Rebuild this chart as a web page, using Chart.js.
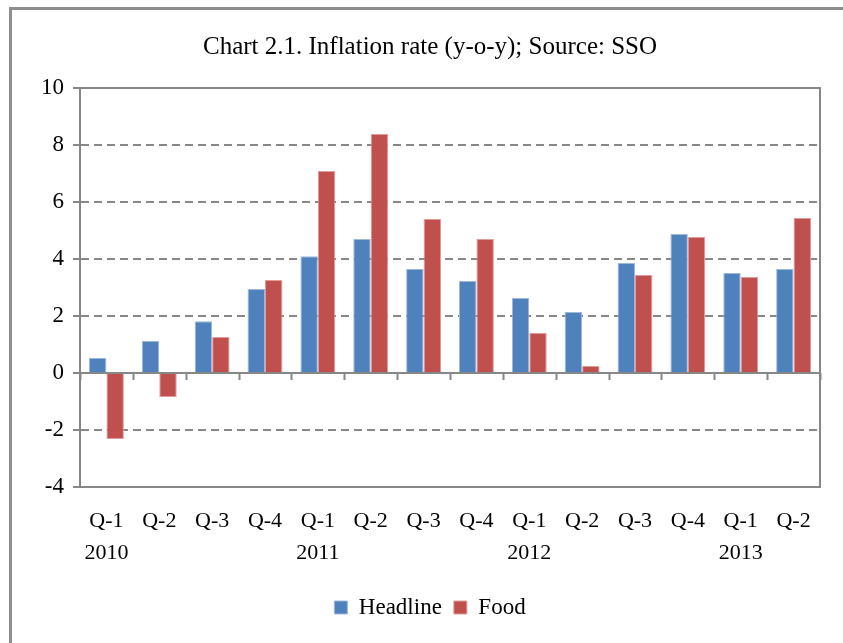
<!DOCTYPE html>
<html>
<head>
<meta charset="utf-8">
<title>Inflation rate</title>
<script src="https://cdn.jsdelivr.net/npm/chart.js@4"></script>
<style>
  html, body { margin: 0; padding: 0; background: #fff; overflow: hidden; }
  #wrap { position: relative; width: 843px; height: 643px; overflow: hidden; }
</style>
</head>
<body>
<div id="wrap"><canvas id="inflationChart" width="860" height="643"></canvas></div>
<script>
// Quarterly y-o-y inflation, 2010 Q1 – 2013 Q2
const quarters = ['Q-1', 'Q-2', 'Q-3', 'Q-4', 'Q-1', 'Q-2', 'Q-3', 'Q-4', 'Q-1', 'Q-2', 'Q-3', 'Q-4', 'Q-1', 'Q-2'];
const years = ['2010', '', '', '', '2011', '', '', '', '2012', '', '', '', '2013', ''];
const headline = [0.53, 1.12, 1.82, 2.95, 4.10, 4.70, 3.65, 3.23, 2.63, 2.14, 3.86, 4.88, 3.51, 3.65];
const food = [-2.32, -0.84, 1.26, 3.26, 7.09, 8.39, 5.40, 4.70, 1.40, 0.25, 3.44, 4.77, 3.37, 5.44];
const yTicks = [10, 8, 6, 4, 2, 0, -2, -4];

const GRAY = '#878787';
const SERIF = '"Liberation Serif", "DejaVu Serif", serif';

// quarter label with the year underneath on Q-1
const labels = quarters.map((q, i) => years[i] ? [q, years[i]] : q);

// outer frame, plot border, zero line with its tick marks
const frameLines = {
    id: 'frameLines',
    beforeDraw(chart) {
        const ctx = chart.ctx;
        ctx.save();
        ctx.fillStyle = '#fff';
        ctx.fillRect(0, 0, chart.width, chart.height);
        ctx.strokeStyle = '#8e8e8e';
        ctx.lineWidth = 3;
        ctx.beginPath();
        ctx.moveTo(10.5, chart.height);
        ctx.lineTo(10.5, 8.5);
        ctx.lineTo(chart.width, 8.5);
        ctx.stroke();
        ctx.restore();
    },
    afterDatasetsDraw(chart) {
        const { ctx, chartArea: a, scales: { x, y } } = chart;
        const y0 = y.getPixelForValue(0);
        ctx.save();
        ctx.strokeStyle = GRAY;
        ctx.lineWidth = 2;
        ctx.setLineDash([]);
        ctx.strokeRect(a.left, a.top, a.right - a.left, a.bottom - a.top);
        ctx.beginPath();
        ctx.moveTo(a.left, y0);
        ctx.lineTo(a.right, y0);
        const step = x.getPixelForValue(1) - x.getPixelForValue(0);
        for (let i = 0; i <= quarters.length; i++) {
            const px = Math.round(x.getPixelForValue(i) - step / 2) + 0.5;
            ctx.moveTo(px, y0);
            ctx.lineTo(px, y0 + 7);
        }
        ctx.stroke();
        ctx.restore();
    }
};

new Chart(document.getElementById('inflationChart'), {
    type: 'bar',
    data: {
        labels: labels,
        datasets: [{
            label: 'Headline',
            data: headline,
            backgroundColor: '#4F81BD',
            borderColor: '#9db8da',
            borderWidth: 1
        }, {
            label: 'Food',
            data: food,
            backgroundColor: '#C0504D',
            borderColor: '#de9c9a',
            borderWidth: 1
        }]
    },
    options: {
        responsive: false,
        animation: false,
        layout: { padding: { left: 40, right: 40, top: 0, bottom: 14 } },
        datasets: {
            bar: { categoryPercentage: 0.66, barPercentage: 1.0 }
        },
        scales: {
            x: {
                grid: { display: false, drawTicks: false },
                border: { display: false },
                ticks: {
                    autoSkip: false,
                    maxRotation: 0,
                    padding: 18,
                    color: '#000',
                    font: { family: SERIF, size: 22, lineHeight: 1.45 }
                },
                afterFit(scale) { scale.height = 97; }
            },
            y: {
                min: -4,
                max: 10,
                afterBuildTicks(scale) { scale.ticks = yTicks.map(v => ({ value: v })); },
                grid: {
                    color: GRAY,
                    lineWidth: 2,
                    tickLength: 7
                },
                border: { display: true, color: GRAY, width: 2, dash: [8, 5] },
                ticks: {
                    padding: 9,
                    color: '#000',
                    font: { family: SERIF, size: 23 }
                },
                afterFit(scale) { scale.width = 40; }
            }
        },
        plugins: {
            title: {
                display: true,
                text: 'Chart 2.1. Inflation rate (y-o-y); Source: SSO',
                color: '#000',
                font: { family: SERIF, size: 25, weight: 'normal' },
                padding: { top: 32, bottom: 26 }
            },
            legend: {
                position: 'bottom',
                labels: {
                    boxWidth: 13,
                    boxHeight: 13,
                    padding: 12,
                    color: '#000',
                    font: { family: SERIF, size: 23 }
                }
            },
            tooltip: { enabled: false }
        }
    },
    plugins: [frameLines]
});
</script>
</body>
</html>
